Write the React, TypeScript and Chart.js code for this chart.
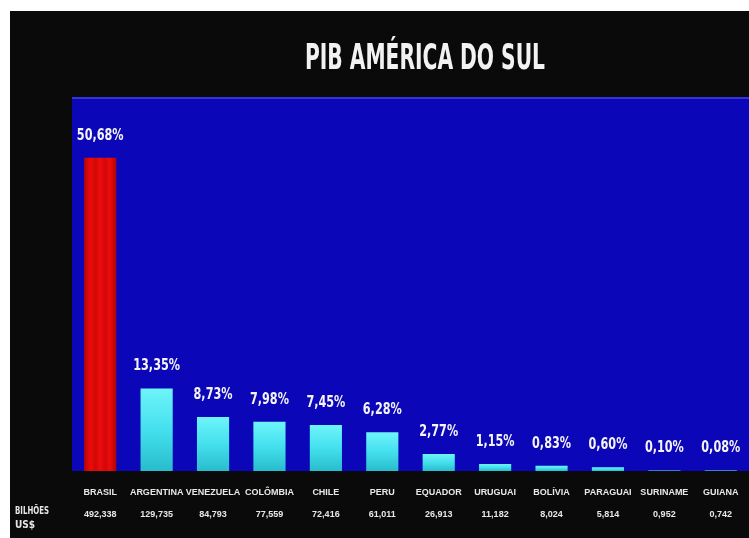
import React, { useEffect, useRef } from "react";
import { Chart, registerables } from "chart.js";

Chart.register(...registerables);

const countries = [
  "BRASIL", "ARGENTINA", "VENEZUELA", "COLÔMBIA", "CHILE", "PERU",
  "EQUADOR", "URUGUAI", "BOLÍVIA", "PARAGUAI", "SURINAME", "GUIANA",
];
const shares = [50.68, 13.35, 8.73, 7.98, 7.45, 6.28, 2.77, 1.15, 0.83, 0.6, 0.1, 0.08];
const gdpBillions = [
  "492,338", "129,735", "84,793", "77,559", "72,416", "61,011",
  "26,913", "11,182", "8,024", "5,814", "0,952", "0,742",
];
const shareLabels = ["50,68%", "13,35%", "8,73%", "7,98%", "7,45%", "6,28%", "2,77%", "1,15%", "0,83%", "0,60%", "0,10%", "0,08%"];
const titleText = "PIB AMÉRICA DO SUL";
const unitLines = ["BILHÕES", "US$"];
const highlighted = "BRASIL";

const NARROW = "'DejaVu Sans Condensed', 'Liberation Sans Narrow', sans-serif";
const TICKFONT = "'Liberation Sans', Arial, sans-serif";

const decor = {
  id: "decor",
  beforeDraw(chart: any) {
    const { ctx, chartArea: a, width, height } = chart;
    ctx.save();
    ctx.fillStyle = "#0a0a0a";
    ctx.fillRect(0, 0, width, height);
    ctx.fillStyle = "#0b07b8";
    ctx.fillRect(a.left, a.top, a.right - a.left, a.bottom - a.top);
    ctx.fillStyle = "#3434d8";
    ctx.fillRect(a.left, a.top, a.right - a.left, 2);
    ctx.restore();
  },
  afterDatasetsDraw(chart: any) {
    const { ctx } = chart;
    const meta = chart.getDatasetMeta(0);
    ctx.save();
    ctx.fillStyle = "#f4f4f4";
    ctx.font = `bold 15px ${NARROW}`;
    ctx.textAlign = "center";
    ctx.textBaseline = "middle";
    meta.data.forEach((el: any, i: number) => {
      const w = shareLabels[i].length * 7.8;
      ctx.fillText(shareLabels[i], el.x, el.y - 22, w);
    });
    ctx.restore();
  },
  afterDraw(chart: any) {
    const { ctx } = chart;
    ctx.save();
    ctx.fillStyle = "#f2f2f2";
    ctx.font = `bold 36px ${NARROW}`;
    ctx.textAlign = "center";
    ctx.textBaseline = "alphabetic";
    ctx.fillText(titleText, 415, 58, 240);
    ctx.font = `bold 10px ${NARROW}`;
    ctx.textAlign = "left";
    ctx.textBaseline = "middle";
    ctx.fillStyle = "#e6e6e6";
    ctx.fillText(unitLines[0], 5, 500, 34);
    ctx.fillText(unitLines[1], 5, 514, 30);
    ctx.restore();
  },
};

function barColor(context: any) {
  const chart = context.chart;
  const a = chart.chartArea;
  const i = context.dataIndex;
  if (!a || context.type !== "data") return countries[i] === highlighted ? "#e00000" : "#40e0ee";
  const ctx = chart.ctx;
  const xs = chart.scales.x;
  const ys = chart.scales.y;
  const cx = xs.getPixelForValue(i);
  if (countries[i] === highlighted) {
    const g = ctx.createLinearGradient(cx - 16, 0, cx + 16, 0);
    g.addColorStop(0, "#b80404");
    g.addColorStop(0.2, "#ee0a0a");
    g.addColorStop(0.35, "#d00808");
    g.addColorStop(0.5, "#f00c0c");
    g.addColorStop(0.65, "#d00808");
    g.addColorStop(0.8, "#ee0a0a");
    g.addColorStop(1, "#b00404");
    return g;
  }
  const top = ys.getPixelForValue(shares[i]);
  const g = ctx.createLinearGradient(0, top, 0, a.bottom);
  g.addColorStop(0, "#6ef4fa");
  g.addColorStop(0.5, "#44e0ee");
  g.addColorStop(1, "#28bccc");
  return g;
}

export default function App() {
  const ref = useRef<HTMLCanvasElement>(null);
  useEffect(() => {
    if (!ref.current) return;
    const chart = new Chart(ref.current, {
      type: "bar",
      data: {
        labels: countries.map((c, i) => [c, gdpBillions[i]]),
        datasets: [
          {
            data: shares,
            backgroundColor: barColor as any,
            borderWidth: 0,
            barPercentage: 0.57,
            categoryPercentage: 1,
          },
        ],
      },
      options: {
        animation: false,
        responsive: false,
        maintainAspectRatio: false,
        layout: { padding: { top: 86, left: 62, right: 0, bottom: 7 } },
        plugins: {
          legend: { display: false },
          tooltip: { enabled: false },
          title: { display: false },
        },
        scales: {
          x: {
            grid: { display: false, drawTicks: false },
            border: { display: false },
            afterFit(scale: any) {
              scale.height = 60;
              scale.paddingLeft = 0;
              scale.paddingRight = 0;
            },
            ticks: {
              color: "#e8e8e8",
              font: { family: TICKFONT, size: 9, weight: "bold", lineHeight: "22px" } as any,
              padding: 11,
              maxRotation: 0,
              autoSkip: false,
            },
          },
          y: {
            display: false,
            min: 0,
            max: 60.5,
          },
        },
      },
      plugins: [decor],
    });
    return () => chart.destroy();
  }, []);
  return (
    <div style={{ position: "fixed", left: 0, top: 0, width: 749, height: 538, background: "#ffffff" }}>
      <canvas ref={ref} width={739} height={527} style={{ position: "absolute", left: 10, top: 11, width: 739, height: 527 }} />
    </div>
  );
}
